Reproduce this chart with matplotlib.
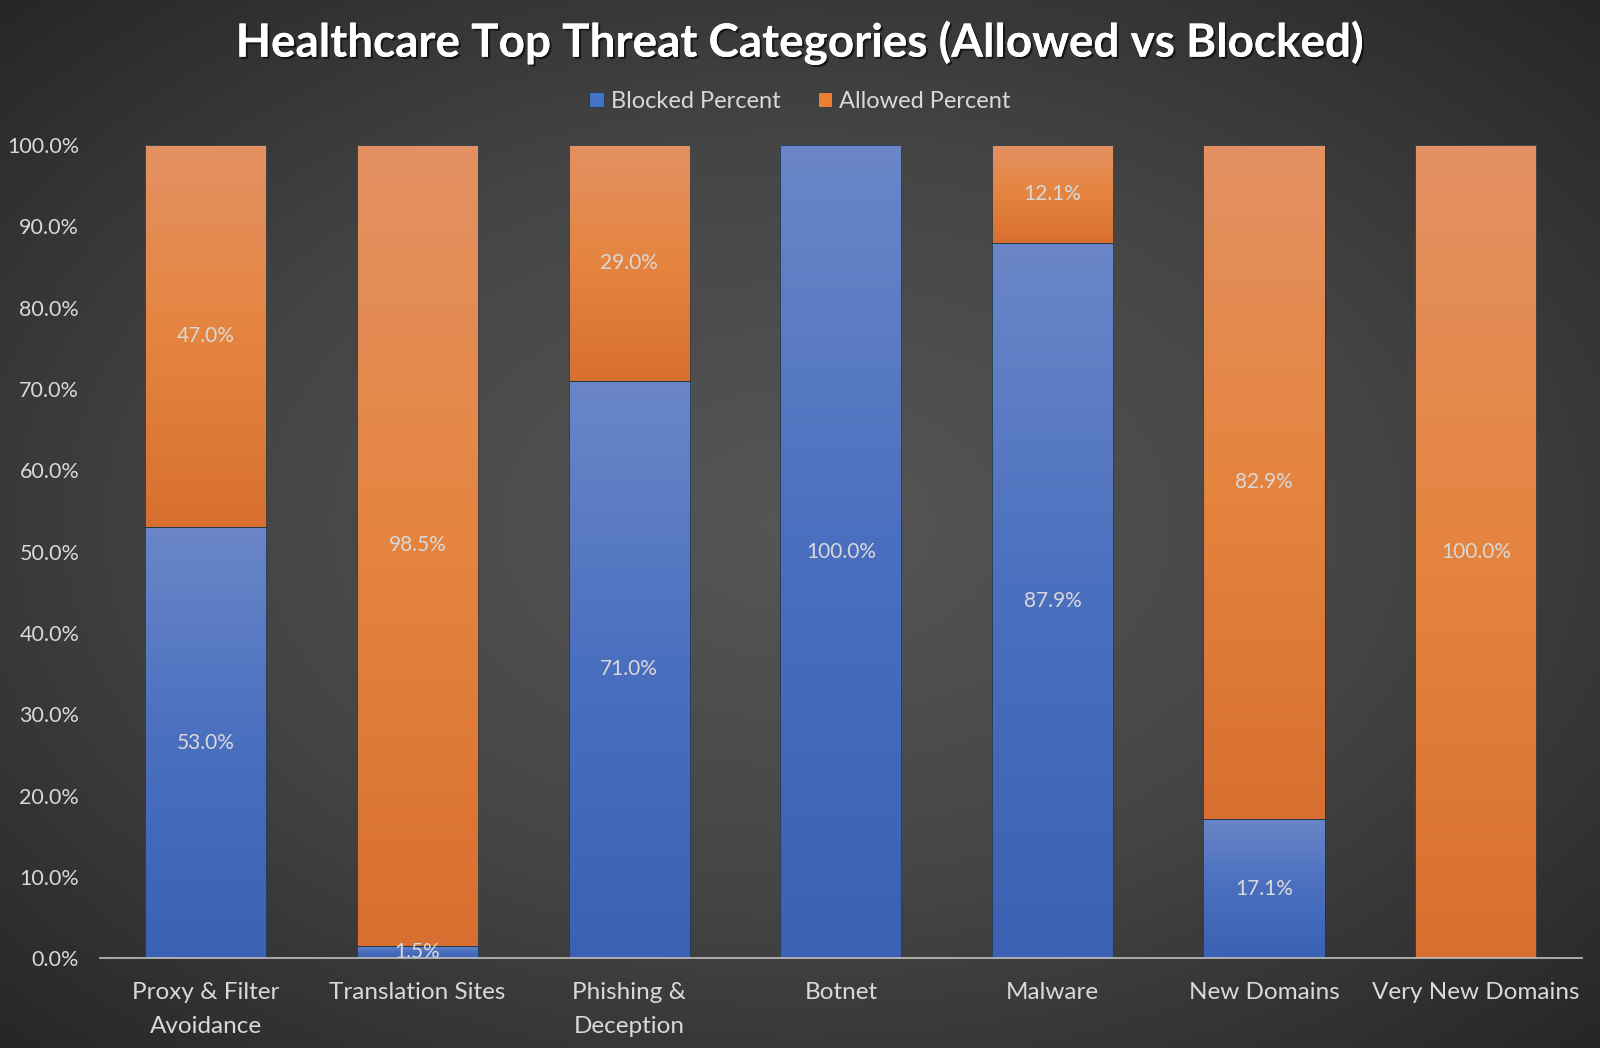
import numpy as np
import matplotlib
matplotlib.use("Agg")
import matplotlib.pyplot as plt
import matplotlib.patheffects as pe
from matplotlib.colors import LinearSegmentedColormap

categories = ["Proxy & Filter\nAvoidance", "Translation Sites", "Phishing &\nDeception",
              "Botnet", "Malware", "New Domains", "Very New Domains"]
blocked = [53.0, 1.5, 71.0, 100.0, 87.9, 17.1, 0.0]
allowed = [47.0, 98.5, 29.0, 0.0, 12.1, 82.9, 100.0]
yticks = [0, 10, 20, 30, 40, 50, 60, 70, 80, 90, 100]

plt.rcParams['font.family'] = ['Lato', 'DejaVu Sans']
TXT = '#d9d9d9'

W, H = 1568, 1027
fig = plt.figure(figsize=(16, 10.48), dpi=100)

# radial gradient background
bg = fig.add_axes([0, 0, 1, 1], zorder=-10)
yy, xx = np.mgrid[0:1:400j, 0:1:600j]
r = np.sqrt(((xx - 0.5) / 0.75) ** 2 + ((yy - 0.5) / 0.75) ** 2)
bg_cmap = LinearSegmentedColormap.from_list('bg', ['#565656', '#454545', '#262626'])
bg.imshow(r, cmap=bg_cmap, vmin=0, vmax=0.95, aspect='auto', extent=[0, 1, 0, 1])
bg.set_axis_off()

ax = fig.add_axes([98 / W, 1 - 939 / H, (1550 - 98) / W, (939 - 142) / H])
ax.patch.set_alpha(0)

x = np.arange(len(categories))
width = 0.573
b1 = ax.bar(x, blocked, width, color='#4472c4', edgecolor='#1f3a4a', linewidth=0.6, label='Blocked Percent')
b2 = ax.bar(x, allowed, width, bottom=blocked, color='#ed7d31', edgecolor='#1f3a4a', linewidth=0.6,
            label='Allowed Percent')

blue_cm = LinearSegmentedColormap.from_list('b', ['#3a61b3', '#4a6fbf', '#6a86c8'])
orange_cm = LinearSegmentedColormap.from_list('o', ['#d86f30', '#e5843f', '#e39163'])
grad = np.linspace(0, 1, 256).reshape(-1, 1)
for bars, cm in ((b1, blue_cm), (b2, orange_cm)):
    for p in bars:
        if p.get_height() <= 0:
            continue
        x0, y0 = p.get_x(), p.get_y()
        w, h = p.get_width(), p.get_height()
        im = ax.imshow(grad, cmap=cm, aspect='auto', origin='lower',
                       extent=[x0, x0 + w, y0, y0 + h], zorder=p.get_zorder() + 0.1)
        im.set_clip_path(p)
        edge = plt.Rectangle((x0, y0), w, h, fill=False, edgecolor='#203844',
                             linewidth=0.6, zorder=p.get_zorder() + 0.2)
        ax.add_patch(edge)

ax.bar_label(b1, labels=[f'{v:.1f}%' if v > 0 else '' for v in blocked], label_type='center',
             color=TXT, fontsize=15, zorder=5)
ax.bar_label(b2, labels=[f'{v:.1f}%' if v > 0 else '' for v in allowed], label_type='center',
             color=TXT, fontsize=15, zorder=5)
for t in ax.texts:
    t.set_zorder(6)

ax.set_xlim(-0.5, 6.5)
ax.set_ylim(0, 100)
ax.set_yticks(yticks)
ax.set_yticklabels([f'{v:.1f}%' for v in yticks])
ax.set_xticks(x)
ax.set_xticklabels(categories, linespacing=1.75)
ax.tick_params(axis='both', length=0, colors=TXT)
ax.tick_params(axis='y', pad=15, labelsize=15.5)
ax.tick_params(axis='x', pad=17, labelsize=17.5)
for s in ['top', 'right', 'left']:
    ax.spines[s].set_visible(False)
ax.spines['bottom'].set_color('#bfbfbf')
ax.spines['bottom'].set_linewidth(1.2)
ax.spines['bottom'].set_zorder(7)

shadow = [pe.withSimplePatchShadow(offset=(1.5, -1.5), shadow_rgbFace='black', alpha=0.6), pe.Normal()]
fig.text(0.5, 1 - 42 / H, 'Healthcare Top Threat Categories (Allowed vs Blocked)', ha='center', va='center',
         color='white', fontsize=33, fontweight='bold', path_effects=shadow)

leg = fig.legend(handles=[b1, b2], loc='center', bbox_to_anchor=(0.5, 1 - 99 / H), ncol=2, frameon=False,
                 fontsize=17, handlelength=0.6, handleheight=0.6, handletextpad=0.3, columnspacing=1.6)
for t in leg.get_texts():
    t.set_color(TXT)

fig.savefig('out.png', dpi=100)
